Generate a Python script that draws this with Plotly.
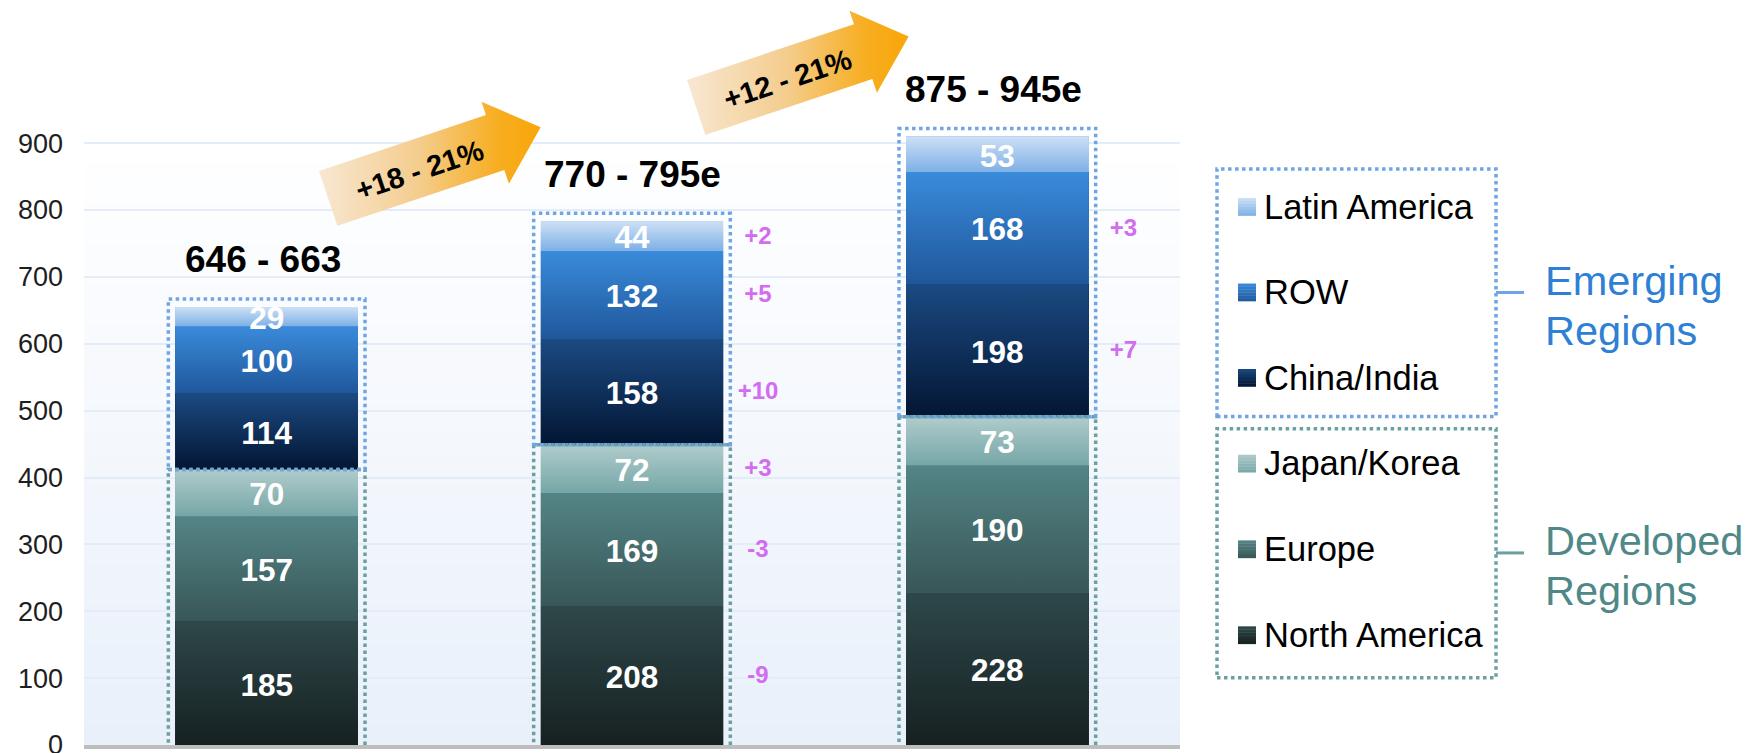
import math
import plotly.graph_objects as go

# ---------------- data ----------------
BAR_POS = [0, 1, 2]
SERIES = ["North America", "Europe", "Japan/Korea", "China/India", "ROW", "Latin America"]
NORTH_AMERICA = [185, 208, 228]
EUROPE = [157, 169, 190]
JAPAN_KOREA = [70, 72, 73]
CHINA_INDIA = [114, 158, 198]
ROW = [100, 132, 168]
LATIN_AMERICA = [29, 44, 53]
DELTA_NA = [None, -9, None]
DELTA_EU = [None, -3, None]
DELTA_JK = [None, 3, None]
DELTA_CI = [None, 10, 7]
DELTA_ROW = [None, 5, 3]
DELTA_LA = [None, 2, None]
TOTAL_LABELS = ["646 - 663", "770 - 795e", "875 - 945e"]
GROWTH_LABELS = ["+18 - 21%", "+12 - 21%"]
Y_TICKS = [0, 100, 200, 300, 400, 500, 600, 700, 800, 900]
LEGEND_EMERGING = ["Latin America", "ROW", "China/India"]
LEGEND_DEVELOPED = ["Japan/Korea", "Europe", "North America"]
GROUP_LABELS = [["Emerging", "Regions"], ["Developed", "Regions"]]

# ---------------- style ----------------
FONT = "Liberation Sans, Arial, sans-serif"
W, H = 1752, 753
L, R, T, B = 84, 572, 0, 7.5
PW, PH = W - L - R, H - T - B
X_RANGE = (-0.5, 2.5)
Y_MAX = 1114
PXU = PW / (X_RANGE[1] - X_RANGE[0])
PYU = PH / Y_MAX
BAR_W = 0.5

# (top colour, bottom colour) per series
SEG_COLORS = {
    "North America": ("#2e4849", "#162021"),
    "Europe": ("#548586", "#385657"),
    "Japan/Korea": ("#b0cccc", "#76a6a6"),
    "China/India": ("#1b4a82", "#031633"),
    "ROW": ("#3a8bdb", "#1f579b"),
    "Latin America": ("#cde0f5", "#7eb0e6"),
}
EMERGING_LINE = "#6fa5e3"
DEVELOPED_LINE = "#6aa0a0"
EMERGING_TEXT = "#2f7fd5"
DEVELOPED_TEXT = "#4f8888"
DELTA_COLOR = "#d26cf0"
LABEL_DROP_PX = 4.5      # optical centring of bold digits
DELTA_DROP_PX = 1.5
TOTAL_SHIFTS = [(-4, 47), (0, 47), (-4, 47)]


def hex2rgb(h):
    h = h.lstrip("#")
    return tuple(int(h[i:i + 2], 16) for i in (0, 2, 4))


def mix(c1, c2, t):
    a, b = hex2rgb(c1), hex2rgb(c2)
    return "rgb(%d,%d,%d)" % tuple(round(a[i] + (b[i] - a[i]) * t) for i in range(3))


def px_to_x(px):
    return X_RANGE[0] + (px - L) / PXU


def py_to_y(py):
    return (T + PH - py) / PYU


def px_to_paper(px):
    return (px - L) / PW


def py_to_paper(py):
    return (T + PH - py) / PH


values = {
    "North America": NORTH_AMERICA, "Europe": EUROPE, "Japan/Korea": JAPAN_KOREA,
    "China/India": CHINA_INDIA, "ROW": ROW, "Latin America": LATIN_AMERICA,
}
deltas = {
    "North America": DELTA_NA, "Europe": DELTA_EU, "Japan/Korea": DELTA_JK,
    "China/India": DELTA_CI, "ROW": DELTA_ROW, "Latin America": DELTA_LA,
}

fig = go.Figure()
shapes = []
annotations = []

# background gradient of plot area (0 -> 900)
N_BG = 60
for k in range(N_BG):
    y0 = Y_TICKS[-1] * k / N_BG
    y1 = Y_TICKS[-1] * (k + 1) / N_BG
    shapes.append(dict(type="rect", xref="x", yref="y", x0=X_RANGE[0], x1=X_RANGE[1],
                       y0=y0, y1=y1 + 0.5, layer="below", line=dict(width=0),
                       fillcolor=mix("#e9f0fa", "#ffffff", (k + 0.5) / N_BG)))

# stacked bars
cum = [0, 0, 0]
bottoms, tops = {}, {}
for name in SERIES:
    vals = values[name]
    top_c, bot_c = SEG_COLORS[name]
    fig.add_trace(go.Bar(x=BAR_POS, y=vals, name=name, width=BAR_W,
                         marker=dict(color=mix(top_c, bot_c, 0.5), line=dict(width=0)),
                         showlegend=False, hoverinfo="name+y"))
    bottoms[name] = list(cum)
    cum = [c + v for c, v in zip(cum, vals)]
    tops[name] = list(cum)
totals = cum

# gradient overlays on each segment
for name in SERIES:
    top_c, bot_c = SEG_COLORS[name]
    for i, xp in enumerate(BAR_POS):
        x0, x1 = xp - BAR_W / 2, xp + BAR_W / 2
        y0, y1 = bottoms[name][i], tops[name][i]
        fig.add_trace(go.Scatter(
            x=[x0, x1, x1, x0, x0], y=[y0, y0, y1, y1, y0], mode="lines",
            line=dict(width=0, color="rgba(0,0,0,0)"), fill="toself",
            fillgradient=dict(type="vertical", start=y0, stop=y1,
                              colorscale=[[0, bot_c], [1, top_c]]),
            hoverinfo="skip", showlegend=False))

# segment value labels
lx, ly, lt = [], [], []
dx_, dy_, dt = [], [], []
for name in SERIES:
    for i, xp in enumerate(BAR_POS):
        mid = (bottoms[name][i] + tops[name][i]) / 2
        lx.append(xp)
        ly.append(mid - LABEL_DROP_PX / PYU)
        lt.append(str(values[name][i]))
        d = deltas[name][i]
        if d is not None:
            dx_.append(xp + 0.345)
            dy_.append(mid - DELTA_DROP_PX / PYU)
            dt.append(("+%d" % d) if d > 0 else str(d))
fig.add_trace(go.Scatter(x=lx, y=ly, text=lt, mode="text", textposition="middle center",
                         textfont=dict(family=FONT, size=31.5, color="white", weight="bold"),
                         hoverinfo="skip", showlegend=False, cliponaxis=False))
fig.add_trace(go.Scatter(x=dx_, y=dy_, text=dt, mode="text", textposition="middle center",
                         textfont=dict(family=FONT, size=24, color=DELTA_COLOR, weight="bold"),
                         hoverinfo="skip", showlegend=False, cliponaxis=False))

# growth arrows
TH = math.radians(18.5)
ARROW_LOCAL = [(0, 0), (176, 0), (176, -14), (224, 29), (176, 72.5), (176, 58), (0, 58), (0, 0)]
ARROW_ORIGINS = [(319, 171), (687, 80)]
ARROW_TEXT_LOCAL = (96, 31)


def local_to_px(origin, u, v):
    return (origin[0] + u * math.cos(TH) + v * math.sin(TH),
            origin[1] - u * math.sin(TH) + v * math.cos(TH))


for k, org in enumerate(ARROW_ORIGINS):
    pts = [local_to_px(org, u, v) for u, v in ARROW_LOCAL]
    xs = [px_to_x(p[0]) for p in pts]
    ys = [py_to_y(p[1]) for p in pts]
    fig.add_trace(go.Scatter(
        x=xs, y=ys, mode="lines", line=dict(width=0, color="rgba(0,0,0,0)"), fill="toself",
        fillgradient=dict(type="horizontal", start=min(xs), stop=max(xs),
                          colorscale=[[0, "#f8e7d2"], [0.45, "#f4cd8e"], [0.8, "#f7ae22"],
                                      [1, "#f9a608"]]),
        hoverinfo="skip", showlegend=False))
    tx, ty = local_to_px(org, *ARROW_TEXT_LOCAL)
    annotations.append(dict(x=px_to_paper(tx), y=py_to_paper(ty), xref="paper", yref="paper",
                            text=GROWTH_LABELS[k], showarrow=False, textangle=-18.5,
                            xanchor="center", yanchor="middle",
                            font=dict(family=FONT, size=29, color="black", weight="bold")))

# total labels
for i, xp in enumerate(BAR_POS):
    xs_, ys_ = TOTAL_SHIFTS[i]
    annotations.append(dict(x=xp, y=totals[i], xref="x", yref="y", text=TOTAL_LABELS[i],
                            showarrow=False, xshift=xs_, yshift=ys_,
                            xanchor="center", yanchor="middle",
                            font=dict(family=FONT, size=37, color="black", weight="bold")))

# dotted group boxes around bars
PAD_X = 7 / PXU
PAD_TOP = 8 / PYU
for i, xp in enumerate(BAR_POS):
    dev_top = tops["Japan/Korea"][i]
    shapes.append(dict(type="rect", xref="x", yref="y", x0=xp - BAR_W / 2 - PAD_X,
                       x1=xp + BAR_W / 2 + PAD_X, y0=-20, y1=dev_top, layer="above",
                       line=dict(color=DEVELOPED_LINE, width=3.5, dash="dot")))
for i, xp in enumerate(BAR_POS):
    dev_top = tops["Japan/Korea"][i]
    shapes.append(dict(type="rect", xref="x", yref="y", x0=xp - BAR_W / 2 - PAD_X,
                       x1=xp + BAR_W / 2 + PAD_X, y0=dev_top, y1=totals[i] + PAD_TOP,
                       layer="above",
                       line=dict(color=EMERGING_LINE, width=3.5, dash="dot")))

# custom legend
ROW_Y = [207, 292.5, 378, 463.8, 549.5, 635.5]
SQ_X0, SQ_X1, SQ_H = 1238, 1256, 17.5
legend_names = LEGEND_EMERGING + LEGEND_DEVELOPED
for name, yc in zip(legend_names, ROW_Y):
    top_c, bot_c = SEG_COLORS[name]
    n = 6
    for k in range(n):
        ya = yc - SQ_H / 2 + SQ_H * k / n
        yb = yc - SQ_H / 2 + SQ_H * (k + 1) / n
        shapes.append(dict(type="rect", xref="paper", yref="paper",
                           x0=px_to_paper(SQ_X0), x1=px_to_paper(SQ_X1),
                           y0=py_to_paper(yb + 0.3), y1=py_to_paper(ya), layer="above",
                           line=dict(width=0), fillcolor=mix(top_c, bot_c, (k + 0.5) / n)))
    annotations.append(dict(x=px_to_paper(1262), y=py_to_paper(yc), xref="paper", yref="paper",
                            text=name, showarrow=False, xanchor="left", yanchor="middle",
                            font=dict(family=FONT, size=34.5, color="black")))

BOXES = [((1217, 169, 1496, 416.7), EMERGING_LINE, 292.7, (281, 331), EMERGING_TEXT),
         ((1217, 429, 1496, 678.3), DEVELOPED_LINE, 553.3, (541, 591), DEVELOPED_TEXT)]
for (bx0, by0, bx1, by1), col, cy, tys, tcol in BOXES:
    shapes.append(dict(type="rect", xref="paper", yref="paper",
                       x0=px_to_paper(bx0), x1=px_to_paper(bx1),
                       y0=py_to_paper(by1), y1=py_to_paper(by0), layer="above",
                       line=dict(color=col, width=3.5, dash="dot")))
    shapes.append(dict(type="line", xref="paper", yref="paper",
                       x0=px_to_paper(bx1), x1=px_to_paper(1524),
                       y0=py_to_paper(cy), y1=py_to_paper(cy), layer="above",
                       line=dict(color=col, width=3)))
for (box, col, cy, tys, tcol), lines in zip(BOXES, GROUP_LABELS):
    for line_text, ty in zip(lines, tys):
        annotations.append(dict(x=px_to_paper(1543), y=py_to_paper(ty), xref="paper",
                                yref="paper", text=line_text, showarrow=False,
                                xanchor="left", yanchor="middle",
                                font=dict(family=FONT, size=41.5, color=tcol)))

fig.update_layout(
    width=W, height=H,
    margin=dict(l=L, r=R, t=T, b=B, pad=0, autoexpand=False),
    barmode="stack",
    paper_bgcolor="white", plot_bgcolor="white",
    font=dict(family=FONT),
    shapes=shapes, annotations=annotations,
    showlegend=False,
    xaxis=dict(range=list(X_RANGE), showticklabels=False, showgrid=False, zeroline=False,
               showline=True, linecolor="#bdbdbd", linewidth=4, ticks="", fixedrange=True,
               automargin=False),
    yaxis=dict(range=[0, Y_MAX], tickvals=Y_TICKS, showgrid=True, gridcolor="#e2edf9",
               gridwidth=2, zeroline=False, showline=False, ticks="",
               ticklabelstandoff=20, ticklabeloverflow="allow", automargin=False,
               tickfont=dict(family=FONT, size=27, color="#1e1e1e"), fixedrange=True),
)

fig.write_html("out.html", config={"displayModeBar": False},
               post_script="document.body.style.margin='0';document.body.style.overflow='hidden';")
